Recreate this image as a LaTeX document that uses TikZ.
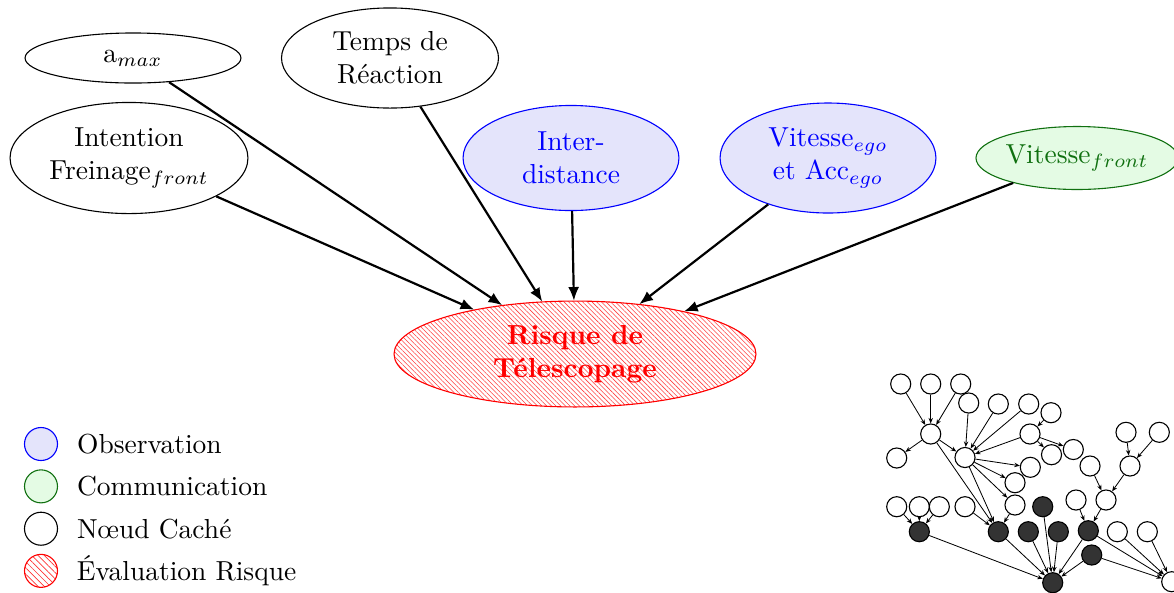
\documentclass[tikz,border=0pt]{standalone}
\usepackage{xcolor}
\usepackage{tikz}
\usetikzlibrary{shapes,arrows.meta,positioning,patterns.meta}
\definecolor{obsfill}{HTML}{E4E4FB}
\definecolor{commfill}{HTML}{E4FBE4}
\definecolor{commline}{HTML}{107010}
\tikzstyle{hidden} = [ellipse, draw, inner sep=0pt, align=center]
\tikzstyle{observed} = [hidden, draw=blue, fill=obsfill, text=blue]
\tikzstyle{received} = [hidden, draw=commline, fill=commfill, text=commline]
\tikzstyle{risk} = [hidden, draw=red, text=red, font=\bfseries,
pattern={Lines[angle=-45,distance=1.2pt,line width=0.2pt]}, pattern color=red!75]
\tikzstyle{link} = [draw, -{Latex[length=5pt,width=4pt]}, line width=0.8pt]
\tikzstyle{legcircle} = [circle, draw, minimum size=12pt, inner sep=0pt]
\tikzstyle{tw} = [circle, draw, fill=white, minimum size=7.3pt, inner sep=0pt, line width=0.4pt]
\tikzstyle{tk} = [tw, fill=black!80]
\tikzstyle{tedge} = [draw, line width=0.3pt, -{Stealth[length=2pt,width=1.6pt]}]

\begin{document}
\begin{tikzpicture}[x=0.3636pt, y=-0.3636pt]
    \useasboundingbox (0,0) rectangle (1174,592);

    % Nodes
    \node [hidden, minimum width=78.5pt, minimum height=18.2pt] (amax) at (133,58) {a$_{max}$};
    \node [hidden, minimum width=78.9pt, minimum height=36.4pt] (temps) at (390,58) {Temps de\\R\'eaction};
    \node [hidden, minimum width=86.5pt, minimum height=40.4pt] (intention) at (129,158) {Intention\\Freinage$_{front}$};
    \node [observed, minimum width=78.5pt, minimum height=38.2pt] (inter) at (571,158) {Inter-\\distance};
    \node [observed, minimum width=78.5pt, minimum height=40pt] (vego) at (828,158) {Vitesse$_{ego}$\\et Acc$_{ego}$};
    \node [received, minimum width=73.4pt, minimum height=22.9pt] (vfront) at (1077,158) {Vitesse$_{front}$};
    \node [risk, minimum width=131.6pt, minimum height=38.5pt] (risque) at (575,354) {Risque de\\T\'elescopage};

    \path [link] (intention) -- (risque);
    \path [link] (amax) -- (risque);
    \path [link] (temps) -- (risque);
    \path [link] (inter) -- (risque);
    \path [link] (vego) -- (risque);
    \path [link] (vfront) -- (risque);

    % Legend
    \node [legcircle, draw=blue, fill=obsfill] (obs) at (41,444) {};
    \node [legcircle, draw=commline, fill=commfill, below=3pt of obs] (comm) {};
    \node [legcircle, below=3pt of comm] (cache) {};
    \node [legcircle, draw=red, pattern={Lines[angle=-45,distance=1.6pt,line width=0.25pt]}, pattern color=red!80, below=3pt of cache] (eval) {};
    \node [right=3.4pt of obs] (obs_txt) {Observation};
    \node [right=3.4pt of comm] (comm_txt) {Communication};
    \node [right=3.4pt of cache] (cache_txt) {N\oe ud Cach\'e};
    \node [right=3.4pt of eval] (eval_txt) {\'Evaluation Risque};

    % Small network
    \foreach \n/\x/\y in {w1/900.7/384, w2/930.7/384, w3/960.7/384, h1/930.7/434, l1/896.7/458,
        b1/968.7/403, b2/998.3/404, b3/1028.7/404, b4/1051/412.7, h2/965/457.5, h3/1030/434,
        c1/1051.5/454.7, c2/1073.3/449.5, c3/1030.3/467.3, c4/1015/482.7, d1/1090/466,
        r1/1126/432.3, r2/1159.3/432.3, r3/1130/466, r4/1106/500, e1/1076/500,
        s1/896.7/506.7, s2/919.3/506.7, s3/939.3/506.7, s4/965/506.7, s5/1015/505,
        u1/1117.3/531.7, u2/1147.3/531.7, ub/1171.7/581.7}
        \node [tw] (\n) at (\x,\y) {};
    \foreach \n/\x/\y in {k0/1042.7/506.7, k1/919.3/531.7, k2/998.3/531.7, k3/1028.3/531.7,
        k4/1058.3/531.7, k5/1088.3/530.7, k6/1091.7/555, kb/1052.7/582.7}
        \node [tk] (\n) at (\x,\y) {};

    \foreach \a/\b in {w1/h1, w2/h1, w3/h1, h1/l1, h1/h2, h1/k2, b1/h2, b2/h2, b3/h2, h3/h2,
        b4/h3, h2/c3, h2/c4, h2/k2, h2/s5, h3/c1, h3/c2, r1/r3, r2/r3, r3/r4, d1/r4,
        r4/k5, e1/k5, s1/k1, s2/k1, s3/k1, s4/k2, s5/k2, k1/kb, k2/kb, k3/kb, k0/kb,
        k4/kb, k5/kb, k6/kb, k5/ub, k6/ub, u1/ub, u2/ub}
        \path [tedge] (\a) -- (\b);

\end{tikzpicture}
\end{document}
